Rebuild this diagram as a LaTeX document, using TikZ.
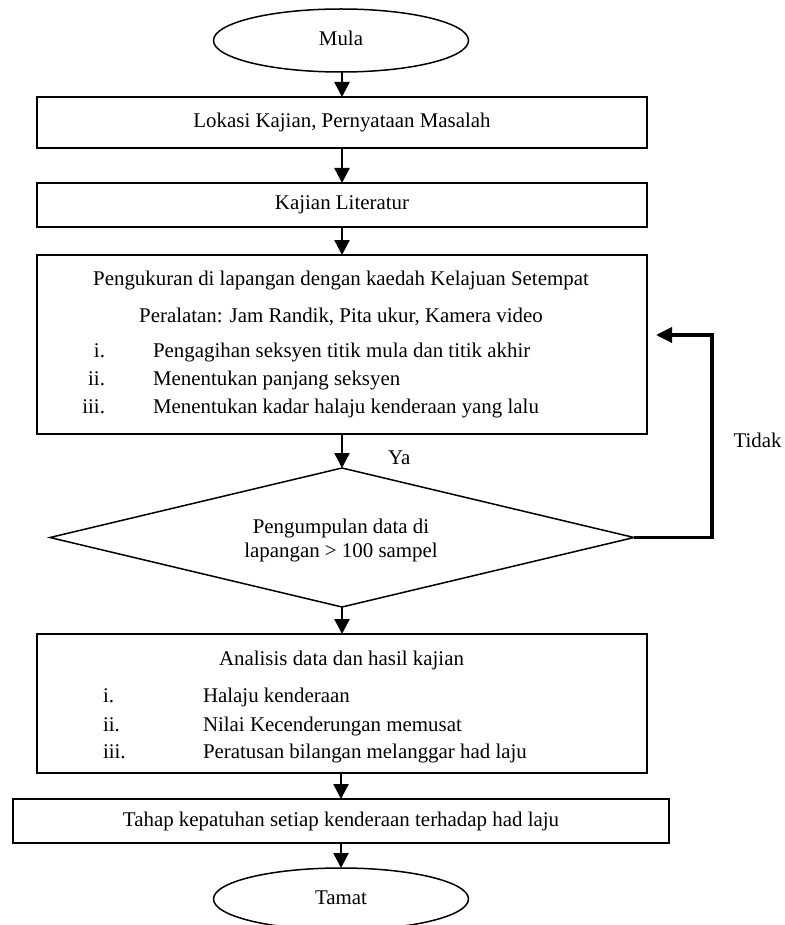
\documentclass[tikz,border=0pt]{standalone}
\usepackage{fontspec}
\setmainfont{Liberation Serif}
\usetikzlibrary{arrows.meta,shapes.geometric}
\begin{document}
\begin{tikzpicture}[x=1pt,y=-1pt,
  font=\fontsize{20.9}{24}\selectfont,
  every node/.style={inner sep=0pt, outer sep=0pt},
  txt/.style={text height=1.05em, text depth=0.05em},
  boxnode/.style={draw, line width=1.5pt, rectangle, txt},
  ovalnode/.style={draw, line width=1.5pt, ellipse, txt},
  decisionnode/.style={draw, line width=1.5pt, diamond},
  flow/.style={line width=2.5pt, -{Triangle[length=15pt,width=15pt]}},
  loopline/.style={line width=3.5pt, -{Triangle[length=16pt,width=15pt]}}]

\useasboundingbox (0,0) rectangle (784,925);

% terminals and boxes
\node[ovalnode, minimum width=255pt, minimum height=63pt] (mula) at (341,40.5) {Mula};
\node[boxnode, minimum width=610pt, minimum height=51pt] (b1) at (342,122.5) {Lokasi Kajian, Pernyataan Masalah};
\node[boxnode, minimum width=610pt, minimum height=44pt] (b2) at (342,205) {Kajian Literatur};
\node[boxnode, minimum width=610pt, minimum height=179pt] (b3) at (342,344.5) {};
\node[decisionnode, minimum width=584pt, minimum height=139pt] (dec) at (342,537.5) {};
\node[boxnode, minimum width=610pt, minimum height=139pt] (b4) at (342,703.5) {};
\node[boxnode, minimum width=656pt, minimum height=44pt] (b5) at (341,821) {Tahap kepatuhan setiap kenderaan terhadap had laju};
\node[ovalnode, minimum width=255pt, minimum height=62pt] (tamat) at (341,899) {Tamat};

% box 3 content
\node[txt] (t3a) at (341,280) {Pengukuran di lapangan dengan kaedah Kelajuan Setempat};
\node[txt] (t3b) at (341,317) {Peralatan: Jam Randik, Pita ukur, Kamera video};
\node[txt, anchor=east] (n3i) at (105,352) {i.};
\node[txt, anchor=east] (n3ii) at (105,380) {ii.};
\node[txt, anchor=east] (n3iii) at (105,408) {iii.};
\node[txt, anchor=west] (t3i) at (153,352) {Pengagihan seksyen titik mula dan titik akhir};
\node[txt, anchor=west] (t3ii) at (153,380) {Menentukan panjang seksyen};
\node[txt, anchor=west] (t3iii) at (153,408) {Menentukan kadar halaju kenderaan yang lalu};

% decision content
\node[txt] (d1) at (341,528) {Pengumpulan data di};
\node[txt] (d2) at (341,552) {lapangan > 100 sampel};

% box 4 content
\node[txt] (t4a) at (341.5,660) {Analisis data dan hasil kajian};
\node[txt, anchor=west] (n4i) at (103,697) {i.};
\node[txt, anchor=west] (n4ii) at (103,726) {ii.};
\node[txt, anchor=west] (n4iii) at (103,753) {iii.};
\node[txt, anchor=west] (t4i) at (203,697) {Halaju kenderaan};
\node[txt, anchor=west] (t4ii) at (203,726) {Nilai Kecenderungan memusat};
\node[txt, anchor=west] (t4iii) at (203,753) {Peratusan bilangan melanggar had laju};

% labels
\node[txt, anchor=west] (ya) at (388,459) {Ya};
\node[txt] (tidak) at (757.5,442) {Tidak};

% connectors
\draw[flow] (mula.south -| b1.north) -- (b1.north);
\draw[flow] (b1.south) -- (b2.north);
\draw[flow] (b2.south) -- (b3.north);
\draw[flow] (b3.south) -- (dec.north);
\draw[flow] (dec.south) -- (b4.north);
\draw[flow] (b4.south -| b5.north) -- (b5.north);
\draw[flow] (b5.south) -- (tamat.north);

\coordinate (corner) at (712,335);
\coordinate (loopend) at (656,335);
\draw[loopline] (dec.east) -| (corner) -- (loopend);
\end{tikzpicture}
\end{document}
